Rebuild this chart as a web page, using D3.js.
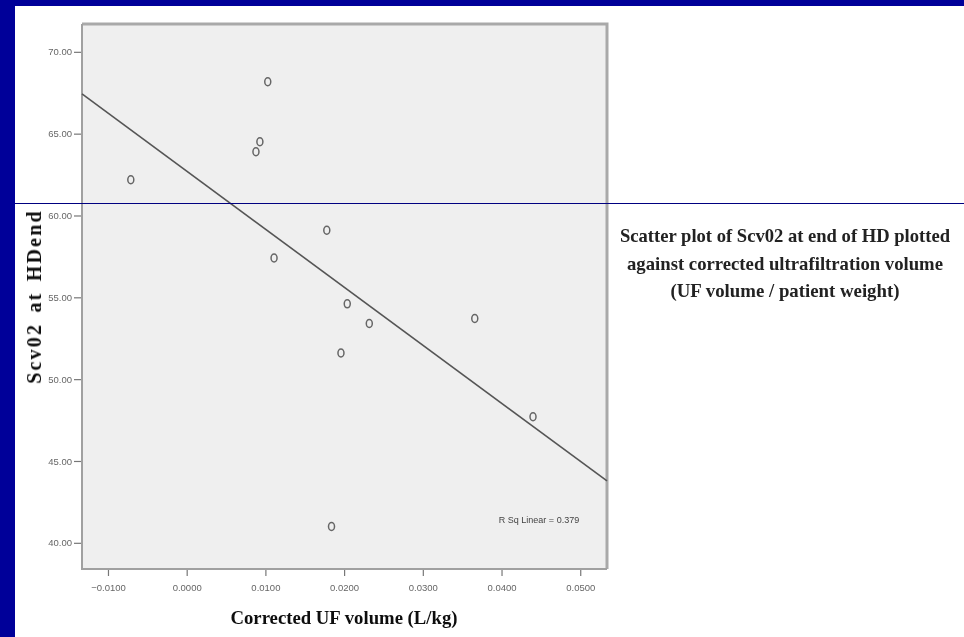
<!DOCTYPE html>
<html>
<head>
<meta charset="utf-8">
<script src="https://cdn.jsdelivr.net/npm/d3@7"></script>
<style>
  body { margin: 0; background: #000099; }
  svg { display: block; }
</style>
</head>
<body>
<svg id="chart" width="964" height="637"></svg>
<script>
// corrected UF volume (L/kg) and ScvO2 at end of HD
const ufVolume = [-0.0071, 0.0103, 0.0093, 0.0088, 0.0111, 0.0178, 0.0204, 0.0232, 0.0196, 0.0366, 0.0440, 0.0184];
const scvo2End = [62.18, 68.17, 64.5, 63.9, 57.4, 59.1, 54.6, 53.4, 51.6, 53.7, 47.7, 41.0];
const xTicks = [-0.01, 0, 0.01, 0.02, 0.03, 0.04, 0.05];
const yTicks = [40, 45, 50, 55, 60, 65, 70];
const titleLines = [
    'Scatter plot of Scv02 at end of HD plotted',
    'against corrected ultrafiltration volume',
    '(UF volume / patient weight)'
];
const titleWidths = [330, 316, 229];
const rSqLabel = 'R Sq Linear = 0.379';

const plot = { left: 82, top: 24, right: 607, bottom: 569 };
const serif = '"Liberation Serif", "DejaVu Serif", serif';
const sans = '"Liberation Sans", Arial, sans-serif';

const data = ufVolume.map((x, i) => ({ x: x, y: scvo2End[i] }));

const xScale = d3.scaleLinear().domain([-0.0133, 0.0534]).range([plot.left, plot.right]);
const yScale = d3.scaleLinear().domain([38.4, 71.7]).range([plot.bottom, plot.top]);

const svg = d3.select('#chart');

// slide background
svg.append('rect')
    .attr('x', 15).attr('y', 6)
    .attr('width', 949).attr('height', 631)
    .attr('fill', '#ffffff');

const soft = svg.append('defs').append('filter').attr('id', 'soft');
soft.append('feGaussianBlur').attr('stdDeviation', 0.5);

// plot area
svg.append('rect')
    .attr('x', plot.left).attr('y', plot.top)
    .attr('width', plot.right - plot.left).attr('height', plot.bottom - plot.top)
    .attr('fill', '#efefef');

svg.append('path')
    .attr('d', `M${plot.left},${plot.top}H${plot.right}V${plot.bottom}`)
    .attr('fill', 'none')
    .attr('stroke', '#a9a9a9')
    .attr('stroke-width', 3);
svg.append('path')
    .attr('d', `M${plot.left},${plot.top}V${plot.bottom}H${plot.right}`)
    .attr('fill', 'none')
    .attr('stroke', '#a0a0a0')
    .attr('stroke-width', 2);

// axes
const xAxis = d3.axisBottom(xScale).tickValues(xTicks).tickFormat(d3.format('.4f')).tickSize(6).tickPadding(5);
const yAxis = d3.axisLeft(yScale).tickValues(yTicks).tickFormat(d3.format('.2f')).tickSize(7).tickPadding(2);

const gx = svg.append('g')
    .attr('transform', `translate(0, ${plot.bottom + 1})`)
    .call(xAxis);
const gy = svg.append('g')
    .attr('transform', `translate(${plot.left - 1}, 0)`)
    .call(yAxis);

[gx, gy].forEach((g) => {
    g.select('.domain').remove();
    g.selectAll('line').attr('stroke', '#777').attr('stroke-width', 1.2);
    g.selectAll('text')
        .attr('fill', '#666')
        .style('font-family', sans)
        .style('font-size', '9.5px')
        .attr('filter', 'url(#soft)');
});
gx.selectAll('text').attr('dy', '1.1em');

// regression line, least squares from the points
const mx = d3.mean(data, (d) => d.x);
const my = d3.mean(data, (d) => d.y);
const slope = d3.sum(data, (d) => (d.x - mx) * (d.y - my)) / d3.sum(data, (d) => (d.x - mx) ** 2);
const intercept = my - slope * mx;
const [x0, x1] = xScale.domain();

svg.append('line')
    .attr('x1', xScale(x0))
    .attr('y1', yScale(intercept + slope * x0))
    .attr('x2', xScale(x1))
    .attr('y2', yScale(intercept + slope * x1))
    .attr('stroke', '#555')
    .attr('stroke-width', 1.6);

// points
svg.append('g')
    .selectAll('ellipse')
    .data(data)
    .enter()
    .append('ellipse')
    .attr('cx', (d) => xScale(d.x))
    .attr('cy', (d) => yScale(d.y))
    .attr('rx', 3)
    .attr('ry', 4)
    .attr('fill', 'none')
    .attr('stroke', '#666')
    .attr('stroke-width', 1.5)
    .attr('filter', 'url(#soft)');

svg.append('text')
    .attr('x', 539).attr('y', 523)
    .attr('text-anchor', 'middle')
    .attr('fill', '#444')
    .style('font-family', sans)
    .style('font-size', '9px')
    .attr('filter', 'url(#soft)')
    .text(rSqLabel);

// axis titles
svg.append('text')
    .attr('x', 344).attr('y', 624)
    .attr('text-anchor', 'middle')
    .attr('textLength', 227)
    .attr('lengthAdjust', 'spacingAndGlyphs')
    .attr('fill', '#111')
    .style('font-family', serif)
    .style('font-weight', 'bold')
    .style('font-size', '19px')
    .attr('filter', 'url(#soft)')
    .text('Corrected UF volume (L/kg)');

svg.append('text')
    .attr('transform', 'translate(41, 296.5) rotate(-90)')
    .attr('text-anchor', 'middle')
    .attr('fill', '#111')
    .style('font-family', serif)
    .style('font-weight', 'bold')
    .style('font-size', '20px')
    .style('letter-spacing', '2.2px')
    .style('word-spacing', '3px')
    .attr('filter', 'url(#soft)')
    .text('Scv02 at HDend');

// side caption
svg.append('g')
    .selectAll('text')
    .data(titleLines)
    .enter()
    .append('text')
    .attr('x', 785)
    .attr('y', (d, i) => 242 + i * 27.5)
    .attr('text-anchor', 'middle')
    .attr('textLength', (d, i) => titleWidths[i])
    .attr('lengthAdjust', 'spacingAndGlyphs')
    .attr('fill', '#222')
    .style('font-family', serif)
    .style('font-weight', 'bold')
    .style('font-size', '19px')
    .attr('filter', 'url(#soft)')
    .text((d) => d);

// slide rule line
svg.append('line')
    .attr('x1', 15).attr('x2', 964)
    .attr('y1', 203.5).attr('y2', 203.5)
    .attr('stroke', '#000080')
    .attr('stroke-width', 1.2);
</script>
</body>
</html>
